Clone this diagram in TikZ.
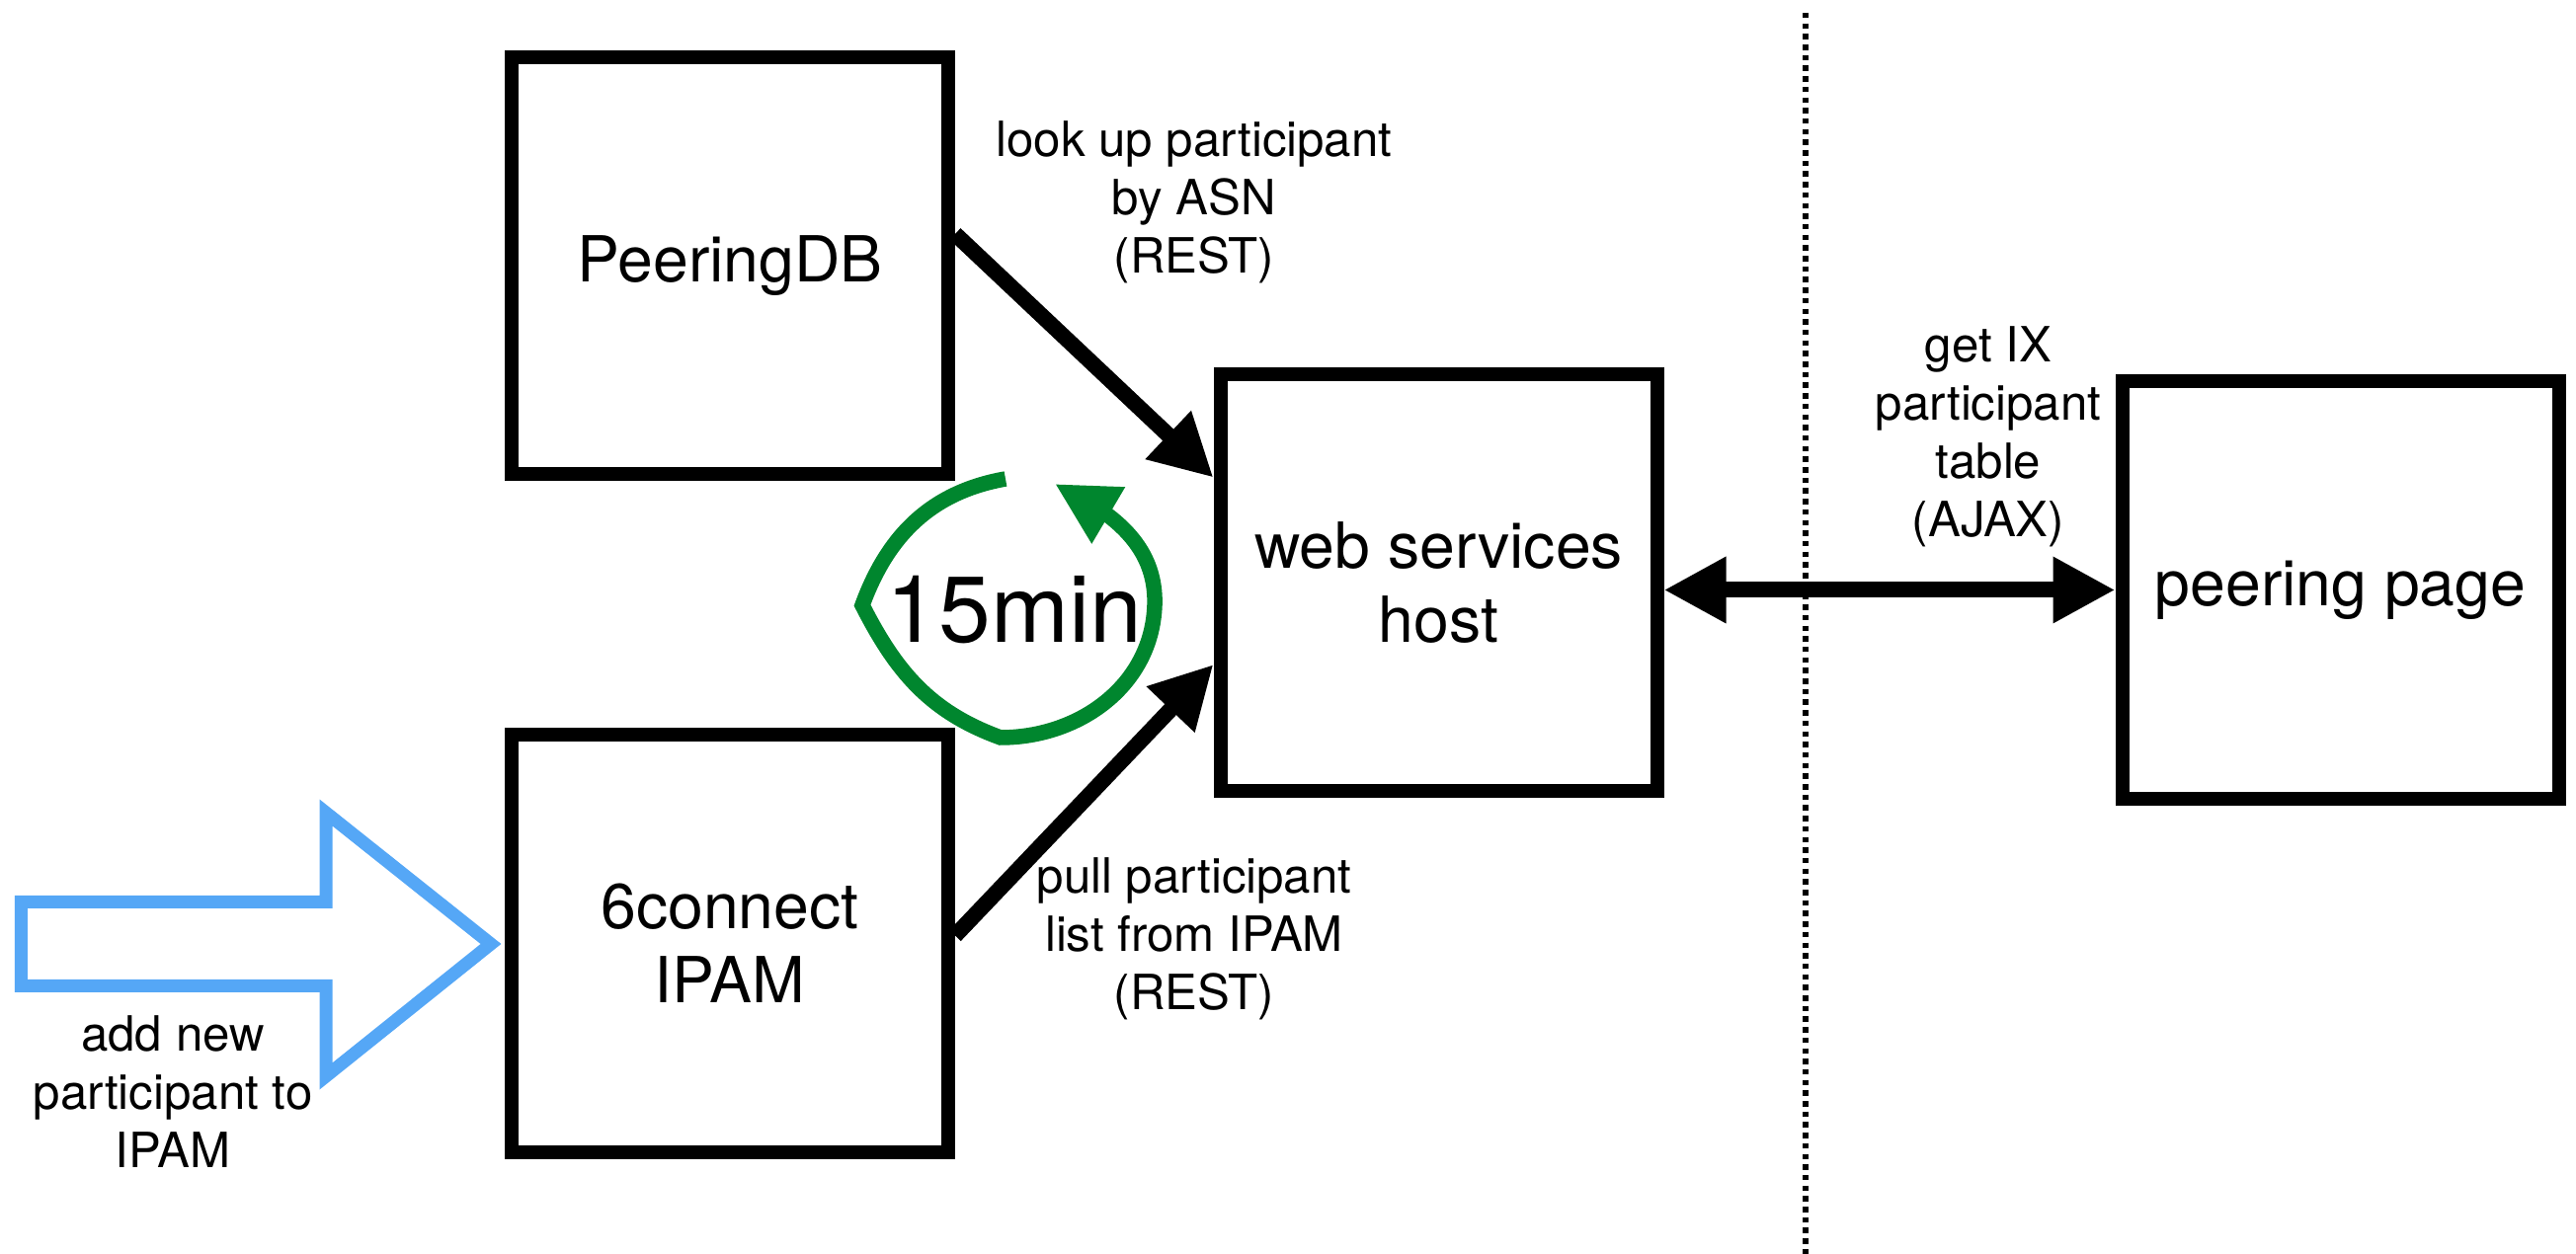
\documentclass[tikz,border=0pt]{standalone}
\usepackage{fontspec}
\setmainfont{TeX Gyre Heros}
\usepackage{xcolor}
\usepackage{tikz}
\usetikzlibrary{arrows.meta,bending}
\usetikzlibrary{calc}

\definecolor{loopgreen}{RGB}{0,134,46}
\definecolor{addblue}{RGB}{85,167,246}

\begin{document}
\begin{tikzpicture}[
    box/.style={draw, line width=0.14cm, minimum width=4.42cm, minimum height=4.225cm,
        inner sep=0pt, align=center, font=\fontsize{18.3}{21.3}\selectfont},
    lbl/.style={align=center, font=\fontsize{14}{16.8}\selectfont},
    conn/.style={line width=0.16cm, -{Triangle[length=0.63cm,width=0.63cm]}},
    ]
    \useasboundingbox (0,0) rectangle (26.08,12.70);

    % boxes
    \node[box] (pdb) at (7.39,10.01) {PeeringDB};
    \node[box] (ipam) at (7.39,3.145) {6connect\\IPAM};
    \node[box] (wsh) at (14.565,6.80) {web services\\host};
    \node[box] (page) at (23.695,6.725) {peering page};

    % arrows
    \draw[conn] (pdb.8) -- (wsh.155);
    \draw[conn] (ipam.2) -- (wsh.200);
    \draw[conn, {Triangle[length=0.63cm,width=0.63cm]}-{Triangle[length=0.63cm,width=0.63cm]}]
        (wsh.east |- page.west) -- (page.west);

    % labels
    \node[lbl] (lookup) at (12.09,10.65) {look up participant\\by ASN\\(REST)};
    \node[lbl] (pull) at (12.09,3.19) {pull participant\\list from IPAM\\(REST)};
    \node[lbl] (getix) at (20.13,8.28) {get IX\\participant\\table\\(AJAX)};
    \node[lbl] (addnew) at (1.75,1.64) {add new\\participant to\\IPAM};

    % 15min loop
    \node[font=\fontsize{27}{30}\selectfont] (every) at (10.27,6.52) {15min};
    \draw[draw=loopgreen, line width=0.155cm, -{Triangle[length=0.63cm,width=0.62cm]}]
        (10.18,7.85) to[out=190,in=70] (8.73,6.57)
        to[out=-63,in=160] (10.13,5.23)
        to[out=0,in=-92] (11.69,6.57)
        to[out=88,in=-26] (10.68,7.80);

    % add arrow
    \draw[draw=addblue, line width=0.13cm]
        (0.215,3.565) -- (3.30,3.565) -- (3.30,4.47) -- (4.97,3.14)
        -- (3.30,1.80) -- (3.30,2.715) -- (0.215,2.715) -- cycle;

    % separator
    \draw[line width=0.057cm, dash pattern=on 0.055cm off 0.052cm] (18.28,12.57) -- (18.28,0);
\end{tikzpicture}
\end{document}
